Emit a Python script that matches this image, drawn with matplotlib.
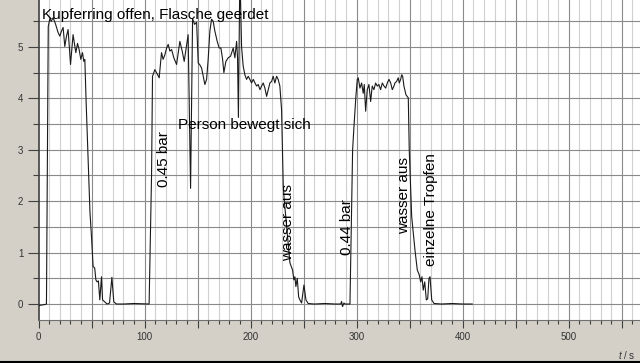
import matplotlib
matplotlib.use("Agg")
import matplotlib.pyplot as plt
from matplotlib.ticker import MultipleLocator, FuncFormatter

# ---- data (time in s, value) ----
t1 = [0, 3, 6, 7.5, 8.3, 9.2, 10.7, 12, 13.8, 16, 18.5, 20.1, 21.5, 23.2, 24.8, 26.3,
      27.9, 30.2, 32.6, 35.2, 36.8, 38.3, 39.9, 41.5, 42.7, 43.7, 44.8, 48.5, 50, 51.5,
      53, 54.1, 55.3, 56.5, 57.8, 59.4, 60.4, 62.5, 64.7, 67, 69.2, 71, 73.6, 80, 90, 103.4]
p1 = [-0.03, -0.02, -0.01, 0.0, 2.5, 5.4, 5.55, 5.5, 5.57, 5.45, 5.28, 5.21, 5.3, 5.38, 5.01, 5.2,
      5.34, 4.66, 5.24, 4.89, 5.07, 4.95, 4.76, 4.89, 4.72, 4.76, 4.0, 1.8, 1.3, 0.73,
      0.7, 0.47, 0.43, 0.45, 0.08, 0.53, 0.08, 0.04, 0.0, 0.02, 0.52, 0.04, 0.0, 0.0, 0.01, 0.0]

t2 = [104.3, 106.6, 107.5, 109.7, 111.3, 113.8, 116, 117.5, 119.2, 120.8,
      122.3, 123.9, 125.5, 127.6, 130.2, 133.3, 135.5, 137.4, 141.1, 143.4,
      145.3, 147.2, 149.1, 150.6, 152.2, 153.8, 155.3, 156.9, 158.5, 160,
      161.6, 163.2, 164.7, 166.3, 168.5, 170.4, 172, 173.6, 174.8, 176.7,
      178.9, 181.1, 183.6, 185.2, 186.8, 187.7, 188.5, 189.9, 191.5, 193,
      194.6, 196.2, 197.8, 199.3, 200.9, 202.5, 204.1, 205.7, 207.2, 208.8,
      210.4, 211.9, 213.5, 215.1, 216.6, 218.2, 219.8, 221.3, 222.9, 224.5,
      226, 227.6, 229.2, 230.8, 231.7, 237.1, 239.6, 240.8, 241.8, 242.7,
      244, 245.3, 246.5, 248.1, 250.3, 252.2, 254.3, 260, 270, 280]
p2 = [0.0, 2.5, 4.43, 4.56, 4.5, 4.4, 4.89, 4.76, 4.85, 4.98,
      5.05, 4.92, 4.95, 4.79, 4.66, 5.11, 4.92, 4.72, 5.24, 2.25,
      5.55, 5.44, 5.48, 4.69, 4.65, 4.59, 4.43, 4.27, 4.37, 4.76,
      5.31, 5.54, 5.5, 5.31, 5.11, 4.98, 4.98, 4.76, 4.5, 4.72,
      4.79, 4.82, 4.98, 4.79, 5.11, 4.79, 3.63, 6.5, 5.0, 4.63,
      4.46, 4.37, 4.43, 4.37, 4.3, 4.37, 4.3, 4.24, 4.27, 4.17,
      4.24, 4.3, 4.2, 4.04, 4.17, 4.3, 4.33, 4.43, 4.3, 4.43,
      4.37, 4.24, 3.78, 2.29, 2.03, 0.8, 0.66, 0.47, 0.53, 0.34,
      0.5, 0.14, 0.08, 0.02, 0.37, 0.08, 0.01, 0.0, 0.01, 0.0]

t3 = [283, 285, 285.8, 286.7, 288, 289, 293.7, 296.2, 297.5, 299.3, 300.6, 301.5,
      303.1, 304.7, 306.2, 307.2, 308.5, 310, 311.6, 313.2, 314.7, 316.3, 317.9,
      319.4, 321, 322.6, 324.2, 325.8, 327.4, 328.9, 330.5, 332.1, 333.6, 335.2,
      336.1, 337.7, 339.2, 340.2, 341.5, 342.5, 343.4, 344.6, 346.5, 348.7, 349.6,
      351.9, 355, 357.2, 359, 360.4, 361.6, 362.8, 364.2, 365.7, 367, 368.2, 369.2,
      370.8, 373, 380, 390, 400, 409]
p3 = [0.0, 0.0, 0.05, -0.05, 0.02, 0.0, 0.0, 3.0, 3.46, 4.04, 4.37, 4.4,
      4.2, 4.3, 4.1, 4.27, 3.75, 4.17, 4.27, 3.94, 4.24, 4.17, 4.3,
      4.24, 4.27, 4.17, 4.3, 4.24, 4.2, 4.3, 4.37, 4.3, 4.17, 4.24,
      4.3, 4.33, 4.4, 4.3, 4.37, 4.46, 4.43, 4.24, 4.07, 4.01, 3.0,
      1.70, 1.05, 0.66, 0.57, 0.43, 0.53, 0.27, 0.43, 0.08, 0.1, 0.5, 0.53,
      0.08, 0.01, 0.0, 0.01, 0.0, 0.0]

labels = [
    ("Kupferring offen, Flasche geerdet", 3.1, 5.62, 0),
    ("Person bewegt sich", 131.4, 3.48, 0),
    ("0.45 bar", 118.2, 2.82, 90),
    ("wasser aus", 235.5, 1.58, 90),
    ("0.44 bar", 290.8, 1.5, 90),
    ("wasser aus", 344.6, 2.12, 90),
    ("einzelne Tropfen", 369.8, 1.84, 90),
]

t = t1 + t2 + t3
p = p1 + p2 + p3

bg = "#d4d0c8"
fig = plt.figure(figsize=(6.4, 3.63), dpi=100, facecolor=bg)
W, H = 640, 363
ax = fig.add_axes([38.5 / W, (H - 320) / H, 1 - 38.5 / W, 320 / H])
ax.set_facecolor("white")
ax.set_xlim(0, 567.2)
ax.set_ylim(-0.311, 5.914)

# grid
for xv in range(10, 570, 10):
    major = xv % 50 == 0
    ax.axvline(xv, color="#8a8a8a" if major else "#d0d0d0", lw=0.8, zorder=1)
for k in range(0, 12):
    ax.axhline(k * 0.5, color="#8a8a8a", lw=0.8, zorder=1)

ax.plot(t, p, color="#1a1a1a", lw=0.8, zorder=3)

for txt, x, y, rot in labels:
    ax.text(x, y, txt, rotation=rot, ha="left" if rot == 0 else "center", va="center",
            fontsize=11, family="Liberation Sans", color="black", zorder=4)

for s in ["top", "right"]:
    ax.spines[s].set_visible(False)
ax.spines["left"].set_color("#404040")
ax.spines["left"].set_linewidth(1.2)
ax.spines["bottom"].set_color("#707070")
ax.spines["bottom"].set_linewidth(0.8)

ax.yaxis.set_major_locator(MultipleLocator(1))
ax.yaxis.set_minor_locator(MultipleLocator(0.5))
ax.xaxis.set_major_locator(MultipleLocator(50))
ax.xaxis.set_minor_locator(MultipleLocator(10))
ax.xaxis.set_major_formatter(FuncFormatter(lambda v, pos: f"{int(v)}" if int(round(v)) % 100 == 0 else ""))
ax.tick_params(axis="y", which="major", length=8, width=0.8, color="#404040", pad=3,
               labelsize=7, labelcolor="#333333")
ax.tick_params(axis="y", which="minor", length=4.5, width=0.8, color="#404040")
ax.tick_params(axis="x", which="major", length=5.5, width=0.8, color="#404040", pad=3,
               labelsize=7, labelcolor="#333333")
ax.tick_params(axis="x", which="minor", length=3, width=0.8, color="#404040")
for lab in ax.get_xticklabels() + ax.get_yticklabels():
    lab.set_family("Liberation Sans")

plt.rcParams["mathtext.fontset"] = "custom"
plt.rcParams["mathtext.it"] = "Liberation Sans:italic"
plt.rcParams["mathtext.rm"] = "Liberation Sans"
fig.text(627 / W, 1 - 355 / H, r"$\it{t}$ / s", ha="center", va="center", fontsize=7,
         family="Liberation Sans", color="#333333")

# bottom black border
fig.add_artist(plt.Line2D([0, 1], [1.5 / H, 1.5 / H], color="black", lw=1.5))

fig.savefig("out.png", dpi=100, facecolor=bg)
